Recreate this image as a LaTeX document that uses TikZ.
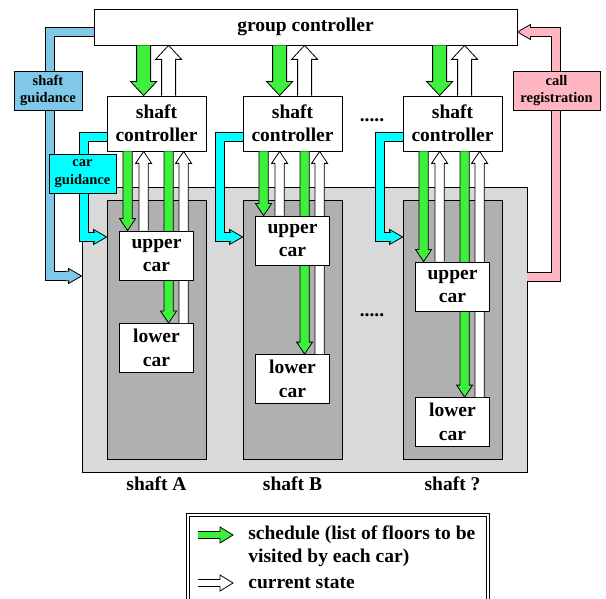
\documentclass[tikz,border=0pt]{standalone}
\usepackage{fontspec}
\setmainfont{Liberation Serif}
\usetikzlibrary{calc}
\definecolor{schedgreen}{RGB}{60,240,60}
\definecolor{guideblue}{RGB}{128,200,232}
\definecolor{carcyan}{RGB}{0,255,255}
\definecolor{callpink}{RGB}{255,182,193}
\definecolor{areagray}{RGB}{217,217,217}
\definecolor{shaftgray}{RGB}{176,176,176}
\newcommand{\mainsize}{\fontsize{19.5}{23.4}\selectfont\bfseries}
\newcommand{\tagsize}{\fontsize{14.5}{17.4}\selectfont\bfseries}
\tikzset{
  bashaft/.store in=\bashaft, bawing/.store in=\bawing, bahead/.store in=\bahead,
  bigarr/.style={bashaft=7pt, bawing=13pt, bahead=14pt},
  smallarr/.style={bashaft=4.6pt, bawing=8pt, bahead=12pt},
  bendarr/.style={bashaft=4.7pt, bawing=7.5pt, bahead=13pt},
  legarr/.style={bashaft=3.5pt, bawing=8pt, bahead=13pt},
  sched/.style={fill=schedgreen},
  state/.style={fill=white},
  bend/.style={double=#1, double distance=8.6pt, line cap=butt, line join=miter},
  box/.style={draw, fill=white, align=center, inner sep=0pt},
  car/.style={box, minimum width=74pt, minimum height=49pt},
  tag/.style={box, font=\tagsize, minimum height=39pt},
}
% block arrow from #2 to #3, filled polygon
\newcommand{\blockarrow}[3]{%
  \begin{scope}[#1]
    \coordinate (ba-a) at (#2);
    \coordinate (ba-b) at (#3);
    \coordinate (ba-h) at ($(ba-b)!\bahead!(ba-a)$);
    \filldraw ($(ba-a)!\bashaft!90:(ba-b)$) -- ($(ba-h)!\bashaft!90:(ba-b)$)
      -- ($(ba-h)!\bawing!90:(ba-b)$) -- (ba-b) -- ($(ba-h)!\bawing!-90:(ba-b)$)
      -- ($(ba-h)!\bashaft!-90:(ba-b)$) -- ($(ba-a)!\bashaft!-90:(ba-b)$);
  \end{scope}}
\begin{document}
\begin{tikzpicture}[x=1pt, y=-1pt, line width=0.8pt, font=\mainsize]
  \useasboundingbox (0,0) rectangle (606,599);
  \node[draw, fill=areagray, minimum width=445pt, minimum height=285pt, inner sep=0pt] (area) at (304.5,329.5) {};
  \node[box, minimum width=423pt, minimum height=36pt] (gc) at (305.5,27) {group controller};
  % shaft guidance and call registration
  \draw[bend=guideblue] (gc.west |- 0,32) -| (50,276) -- (66,276);
  \blockarrow{bendarr, fill=guideblue}{66,276}{area.west |- 0,276};
  \draw[bend=callpink] (area.east |- 0,277) -| (556,32) -- (530,32);
  \blockarrow{bendarr, fill=callpink}{530,32}{gc.east |- 0,32};
  \foreach \n/\x/\uy/\ly/\lab in {A/107/231/323/A, B/243/216/354/B, Q/403/262/397/?} {
    \node[draw, fill=shaftgray, minimum width=99pt, minimum height=259pt, inner sep=0pt] (sh\n) at (\x+49.5,329.5) {};
    \node[box, minimum width=99pt, minimum height=55pt] (sc\n) at (\x+49.5,123.5) {shaft\\controller};
    \node[car] (lc\n) at (\x+49.5,\ly+25) {lower\\car};
    \path (sc\n.north west) ++(37,0) coordinate (gt\n) ++(25,0) coordinate (st\n);
    \path (sc\n.south west) ++(21,0) coordinate (a\n) ++(16,0) coordinate (b\n)
      ++(25,0) coordinate (c\n) ++(15,0) coordinate (d\n);
    \blockarrow{bigarr, sched}{gt\n |- gc.south}{gt\n};
    \blockarrow{bigarr, state}{st\n}{st\n |- gc.south};
    \blockarrow{smallarr, sched}{c\n}{c\n |- lc\n.north};
    \blockarrow{smallarr, state}{d\n |- lc\n.north}{d\n};
    \node[car] (uc\n) at (\x+49.5,\uy+24.5) {upper\\car};
    \blockarrow{smallarr, sched}{a\n}{a\n |- uc\n.north};
    \blockarrow{smallarr, state}{b\n |- uc\n.north}{b\n};
    % car guidance
    \draw[bend=carcyan] (sc\n.west |- 0,137) -- (\x-23,137) -- (\x-23,237) -- (\x-12,237);
    \blockarrow{bendarr, fill=carcyan}{\x-12,237}{sh\n.west |- 0,237};
    \node (lbl\n) at (\x+49.5,484) {shaft \lab};
  }
  \node[tag, fill=guideblue, minimum width=68pt] (shg) at (48,90.5) {shaft\\guidance};
  \node[tag, fill=carcyan, minimum width=67pt] (cag) at (82.5,173.5) {car\\guidance};
  \node[tag, fill=callpink, minimum width=87pt] (calr) at (556.5,90.5) {call\\registration};
  \node (dots1) at (372,120) {.....};
  \node (dots2) at (372,315) {.....};
  % legend
  \draw[double, double distance=2.4pt] (188,515) rectangle (488,620);
  \coordinate (lg1) at (198,535);
  \coordinate (lg2) at (233,535);
  \coordinate (lg3) at (198,583);
  \coordinate (lg4) at (233,583);
  \blockarrow{legarr, sched}{lg1}{lg2};
  \blockarrow{legarr, state}{lg3}{lg4};
  \node[anchor=west, align=left, inner sep=0pt] (schedtxt) at (248,546) {schedule (list of floors to be\\visited by each car)};
  \node[anchor=west, inner sep=0pt] (statetxt) at (248,583) {current state};
\end{tikzpicture}
\end{document}
